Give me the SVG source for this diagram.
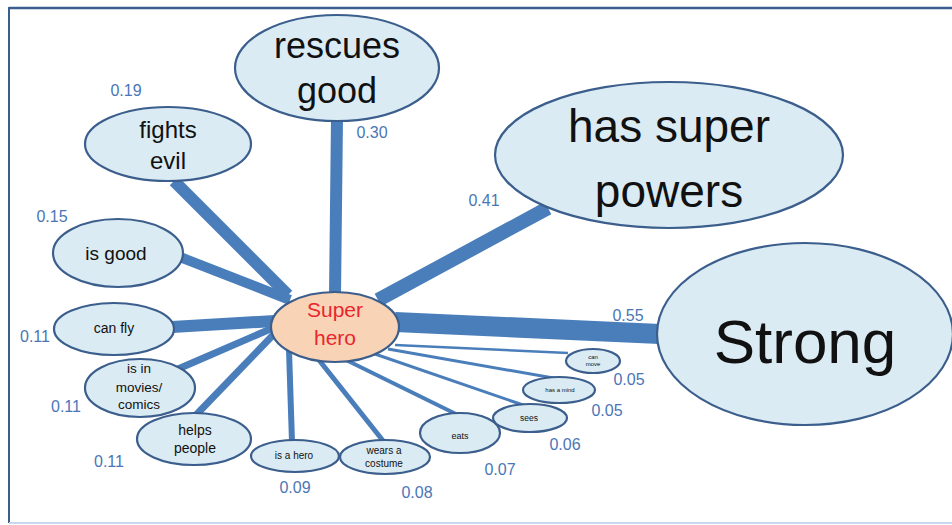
<svg xmlns="http://www.w3.org/2000/svg" width="952" height="525" viewBox="0 0 952 525">
  <style>
    .node ellipse { fill: #DAEBF3; stroke: #3B5E8C; stroke-width: 2.2; }
    .node text { font-family: "Liberation Sans", Arial, sans-serif; fill: #111; text-anchor: middle; }
    #center ellipse { fill: #F9D3B5; }
    #center text { fill: #E8262E; }
    .edges line { stroke: #4A7EBB; stroke-linecap: butt; }
    .weights text { font-family: "Liberation Sans", Arial, sans-serif; font-size: 16px; fill: #4A76B6; text-anchor: middle; }
  </style>

  <rect x="0" y="0" width="952" height="525" fill="#fff"/>
  <!-- frame -->
  <line x1="9" y1="8" x2="952" y2="8" stroke="#3A5F8E" stroke-width="2.4"/>
  <line x1="9" y1="7" x2="9" y2="523" stroke="#3A5F8E" stroke-width="2"/>
  <line x1="9" y1="523" x2="952" y2="523" stroke="#C9D7EE" stroke-width="2"/>

  <!-- connectors -->
  <g class="edges" id="edges">
    <line x1="337" y1="118" x2="335" y2="295" stroke-width="12"/>
    <line x1="548" y1="208" x2="378" y2="300" stroke-width="14"/>
    <line x1="395" y1="322" x2="660" y2="334" stroke-width="20"/>
    <line x1="174" y1="181" x2="288" y2="295" stroke-width="12"/>
    <line x1="180" y1="257" x2="290" y2="300" stroke-width="10"/>
    <line x1="172" y1="327" x2="275" y2="321" stroke-width="12"/>
    <line x1="178" y1="369" x2="275" y2="327" stroke-width="7"/>
    <line x1="196" y1="415" x2="275" y2="333" stroke-width="7"/>
    <line x1="292" y1="442" x2="289" y2="350" stroke-width="6"/>
    <line x1="384" y1="442" x2="315" y2="355" stroke-width="5"/>
    <line x1="460" y1="416" x2="340" y2="357" stroke-width="4"/>
    <line x1="526" y1="406" x2="372" y2="353" stroke-width="3"/>
    <line x1="559" y1="379" x2="388" y2="349" stroke-width="3"/>
    <line x1="568" y1="353" x2="395" y2="345" stroke-width="2.5"/>
  </g>

  <!-- nodes -->
  <g class="node" id="rescues-good">
    <ellipse cx="337" cy="68" rx="102" ry="53"/>
    <text x="337" y="58" font-size="36">rescues</text>
    <text x="337" y="103" font-size="36">good</text>
  </g>
  <g class="node" id="has-super-powers">
    <ellipse cx="669" cy="155" rx="174" ry="73"/>
    <text x="669" y="142" font-size="46">has super</text>
    <text x="669" y="207" font-size="46">powers</text>
  </g>
  <g class="node" id="strong">
    <ellipse cx="805" cy="334" rx="148" ry="91"/>
    <text x="805" y="363" font-size="62">Strong</text>
  </g>
  <g class="node" id="fights-evil">
    <ellipse cx="168" cy="144" rx="83" ry="37"/>
    <text x="168" y="138" font-size="24">fights</text>
    <text x="168" y="169" font-size="24">evil</text>
  </g>
  <g class="node" id="is-good">
    <ellipse cx="118" cy="253" rx="65" ry="34"/>
    <text x="116" y="260" font-size="19">is good</text>
  </g>
  <g class="node" id="can-fly">
    <ellipse cx="114" cy="329" rx="60" ry="26"/>
    <text x="114" y="333" font-size="14">can fly</text>
  </g>
  <g class="node" id="movies-comics">
    <ellipse cx="140" cy="388" rx="55" ry="29"/>
    <text x="139" y="373" font-size="13.5">is in</text>
    <text x="139" y="392" font-size="13.5">movies/</text>
    <text x="139" y="409" font-size="13.5">comics</text>
  </g>
  <g class="node" id="helps-people">
    <ellipse cx="194" cy="439" rx="57" ry="26"/>
    <text x="195" y="435" font-size="14">helps</text>
    <text x="195" y="453" font-size="14">people</text>
  </g>
  <g class="node" id="is-a-hero">
    <ellipse cx="295" cy="456" rx="44" ry="16"/>
    <text x="294" y="459" font-size="10">is a hero</text>
  </g>
  <g class="node" id="wears-costume">
    <ellipse cx="385" cy="457" rx="45" ry="17"/>
    <text x="384" y="454" font-size="10">wears a</text>
    <text x="384" y="467" font-size="10">costume</text>
  </g>
  <g class="node" id="eats">
    <ellipse cx="460" cy="433" rx="40" ry="20"/>
    <text x="460" y="439" font-size="9">eats</text>
  </g>
  <g class="node" id="sees">
    <ellipse cx="530" cy="418" rx="37" ry="14"/>
    <text x="529" y="421" font-size="8.5">sees</text>
  </g>
  <g class="node" id="has-a-mind">
    <ellipse cx="559" cy="390" rx="36" ry="13"/>
    <text x="560" y="392" font-size="6">has a mind</text>
  </g>
  <g class="node" id="can-move">
    <ellipse cx="593" cy="361" rx="27" ry="12"/>
    <text x="593" y="359" font-size="6">can</text>
    <text x="593" y="366" font-size="6">move</text>
  </g>
  <g class="node" id="center">
    <ellipse cx="335" cy="327" rx="64" ry="35"/>
    <text x="335" y="317" font-size="21">Super</text>
    <text x="335" y="345" font-size="21">hero</text>
  </g>

  <!-- edge weights -->
  <g class="weights" id="weights">
    <text x="126" y="96">0.19</text>
    <text x="372" y="138">0.30</text>
    <text x="484" y="206">0.41</text>
    <text x="52" y="222">0.15</text>
    <text x="628" y="321">0.55</text>
    <text x="35" y="342">0.11</text>
    <text x="66" y="412">0.11</text>
    <text x="109" y="467">0.11</text>
    <text x="295" y="493">0.09</text>
    <text x="417" y="498">0.08</text>
    <text x="500" y="475">0.07</text>
    <text x="565" y="450">0.06</text>
    <text x="607" y="416">0.05</text>
    <text x="629" y="385">0.05</text>
  </g>
</svg>
